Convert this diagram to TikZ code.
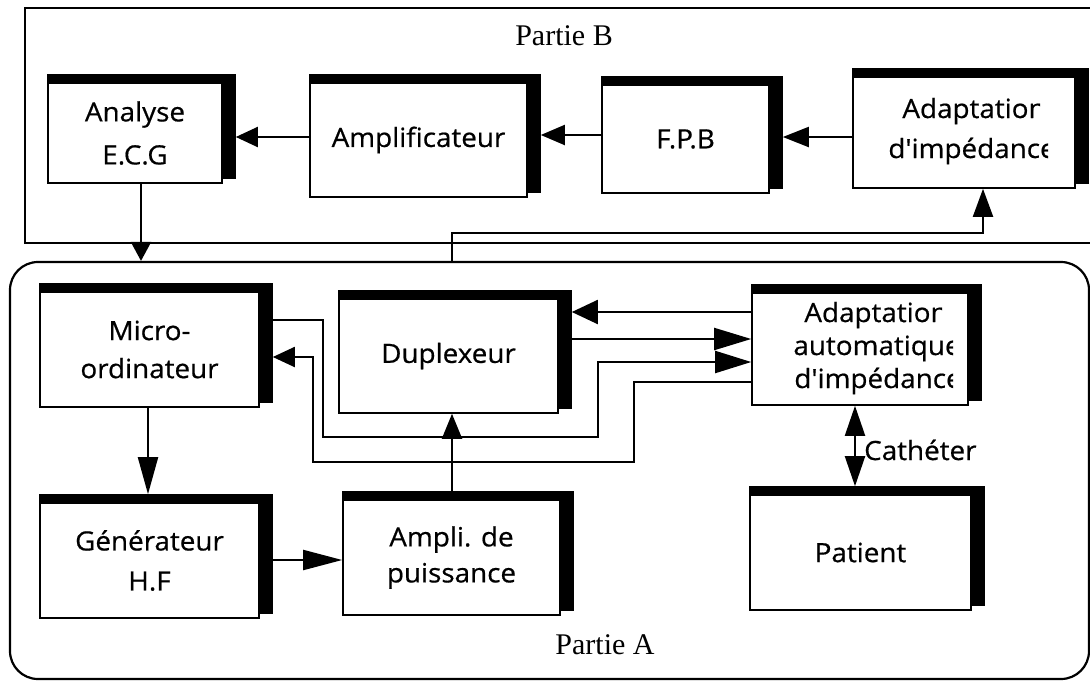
\documentclass[tikz,border=0pt]{standalone}
\usepackage{fontspec}
\setmainfont{Liberation Serif}
\newfontfamily\boxfont[FakeStretch=1.05,FakeBold=0.6]{Open Sans}
\usetikzlibrary{arrows.meta}
\pgfdeclarelayer{bg}
\pgfsetlayers{bg,main}
\newcommand\bxf[1]{\boxfont\fontsize{26.5}{#1}\selectfont}
\tikzset{
  blk/.style={draw=black, line width=1.6pt, fill=white, inner sep=0pt, align=center, font=\bxf{38}},
  conn/.style={line width=2pt},
  ah/.style={-{Triangle[length=#1,width=20pt]}},
  frame/.style={draw=black, line width=2.2pt, inner sep=0pt},
  lab/.style={font=\fontsize{30}{36}\selectfont, anchor=base, inner sep=0pt},
  ltxt/.style={font=\bxf{38}, anchor=base, inner sep=0pt},
}
\begin{document}
\begin{tikzpicture}[x=1pt,y=-1pt]
\useasboundingbox (0,0) rectangle (1090,681);
\clip (0,0) rectangle (1090,681);
\begin{pgfonlayer}{bg}
\fill[white] (0,0) rectangle (1090,681);
\end{pgfonlayer}

% frames
\node[frame, minimum width=1075pt, minimum height=235pt] (partB) at (562.5,125.5) {};
\node[frame, rounded corners=28pt, minimum width=1079pt, minimum height=417pt] (partA) at (549.5,470.5) {};
\node[lab] (labB) at (564,45) {Partie B};
\node[lab] (labA) at (605,654) {Partie A};

% boxes, Partie B
\node[blk, font=\bxf{43}, minimum width=174pt, minimum height=100pt] (ana) at (135,133) {Analyse\\E.C.G};
\node[blk, minimum width=217pt, minimum height=114pt] (amp) at (418.5,140) {Amplificateur};
\node[blk, minimum width=167pt, minimum height=108pt] (fpb) at (685.5,139) {F.P.B};
\node[blk, minimum width=222pt, minimum height=111pt] (adb) at (964,132.5) {};

% boxes, Partie A
\node[blk, minimum width=219pt, minimum height=115pt] (mic) at (149.5,349.5) {Micro-\\ordinateur};
\node[blk, minimum width=219pt, minimum height=114pt] (dup) at (448.5,356) {Duplexeur};
\node[blk, minimum width=216pt, minimum height=112pt] (aut) at (860,349) {};
\node[blk, font=\bxf{40}, minimum width=219pt, minimum height=115pt] (gen) at (149.5,560.5) {Générateur\\H.F};
\node[blk, font=\bxf{36}, minimum width=217pt, minimum height=115pt] (apu) at (451.5,557.5) {Ampli. de\\puissance};
\node[blk, minimum width=221pt, minimum height=115pt] (pat) at (860.5,552.5) {Patient};

% shadows
\begin{pgfonlayer}{bg}
\foreach \n in {ana,amp,fpb,adb,mic,dup,aut,gen,apu,pat}{
  \fill[black] ([yshift=8pt]\n.north west) rectangle ([xshift=13pt,yshift=5pt]\n.south east);
}
\end{pgfonlayer}
\foreach \n in {ana,amp,fpb,adb,mic,dup,aut,gen,apu,pat}{
  \coordinate (\n S) at ([xshift=13pt]\n.east);
  \coordinate (\n T) at ([yshift=8pt]\n.north);
}

% clipped texts
\begin{scope}
  \clip (adb.north west) rectangle (1040,125);
  \node[ltxt] (adb1) at (974,118) {Adaptation};
\end{scope}
\begin{scope}
  \clip (853,125) rectangle (1048,188);
  \node[ltxt] (adb2) at (972,158) {d'impédance};
\end{scope}
\begin{scope}
  \clip (aut.north west) rectangle (942,329);
  \node[ltxt] (aut1) at (876,322) {Adaptation};
\end{scope}
\begin{scope}
  \clip (752,329) rectangle (953,405);
  \node[ltxt] (aut2) at (877,355) {automatique};
  \node[ltxt] (aut3) at (878,388) {d'impédance};
\end{scope}

% connectors, Partie B
\draw[conn, ah=22pt] (amp.west |- 0,137) -- (anaS |- 0,137);
\draw[conn, ah=24pt] (fpb.west |- 0,135) -- (ampS |- 0,135);
\draw[conn, ah=26pt] (adb.west |- 0,137) -- (fpbS |- 0,137);
\draw[conn, ah=19pt] (141,0 |- ana.south) -- (141,0 |- partA.north);
\draw[conn, ah=28pt] (452,0 |- partA.north) |- (983,233) -- (983,0 |- adb.south);

% connectors, Partie A
\draw[conn, ah=37pt] (148,0 |- mic.south) -- (148,0 |- genT);
\draw[conn, ah=39pt] (genS |- 0,560) -- (apu.west |- 0,560);
\draw[conn, ah=25pt] (452,0 |- apuT) -- (452,0 |- dup.south);
\draw[conn, -{Triangle[length=26pt,width=24pt]}] (aut.west |- 0,312) -- (dupS |- 0,312);
\draw[conn, -{Triangle[length=37pt,width=22pt]}] (dupS |- 0,339) -- (aut.west |- 0,339);
\draw[conn, -{Triangle[length=36pt,width=22pt]}] (micS |- 0,320) -- (323,320) -- (323,437) -- (598,437) -- (598,362) -- (aut.west |- 0,362);
\draw[conn, ah=22pt] (aut.west |- 0,382) -- (634,382) -- (634,462) -- (313,462) -- (313,357) -- (micS |- 0,357);
\draw[conn, {Triangle[length=30pt,width=20pt]}-{Triangle[length=30pt,width=20pt]}] (855,0 |- aut.south) -- (855,0 |- patT);
\node[ltxt, anchor=base west] (cath) at (864,460) {Cathéter};
\end{tikzpicture}
\end{document}
